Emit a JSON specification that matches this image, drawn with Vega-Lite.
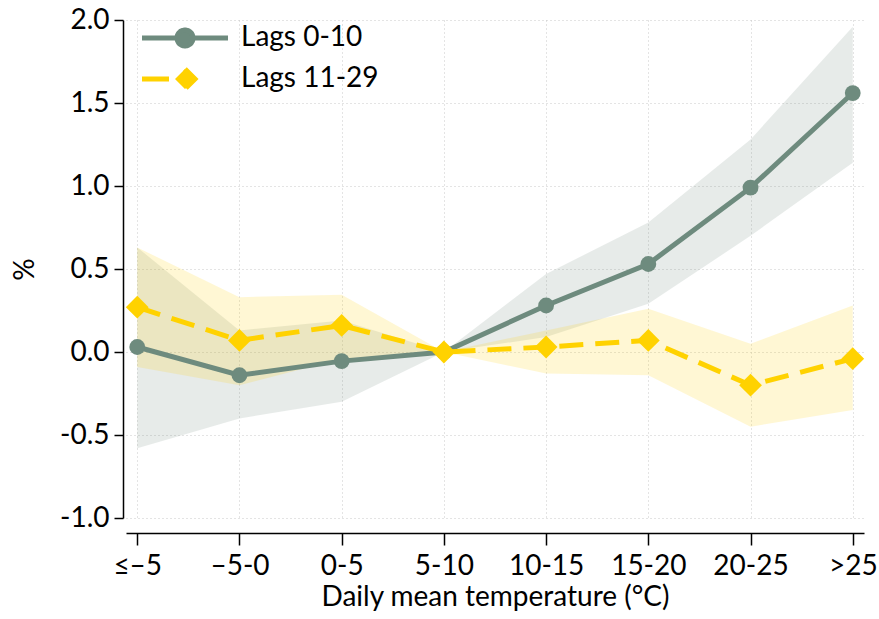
{
  "$schema": "https://vega.github.io/schema/vega-lite/v6.json",
  "width": 738,
  "height": 498,
  "padding": {"top": 6, "left": 11, "right": 17, "bottom": 8},
  "background": "white",
  "config": {
    "view": {"stroke": null},
    "font": "Lato",
    "axis": {
      "labelFont": "Lato", "titleFont": "Lato",
      "labelFontSize": 28, "titleFontSize": 28,
      "labelColor": "#000", "titleColor": "#000",
      "titleFontWeight": "normal",
      "domainColor": "#000", "domainWidth": 1.5,
      "tickColor": "#000", "tickWidth": 1.5,
      "gridColor": "#c8c8c8", "gridDash": [1, 3], "gridWidth": 1
    },
    "legend": {"labelFont": "Lato"}
  },
  "data": {
    "values": [
      {"cat": "≤–5", "series": "Lags 0-10", "est": 0.03, "lo": -0.58, "hi": 0.63},
      {"cat": "–5-0", "series": "Lags 0-10", "est": -0.14, "lo": -0.40, "hi": 0.13},
      {"cat": "0-5", "series": "Lags 0-10", "est": -0.055, "lo": -0.30, "hi": 0.19},
      {"cat": "5-10", "series": "Lags 0-10", "est": 0.0, "lo": 0.0, "hi": 0.0},
      {"cat": "10-15", "series": "Lags 0-10", "est": 0.28, "lo": 0.09, "hi": 0.47},
      {"cat": "15-20", "series": "Lags 0-10", "est": 0.53, "lo": 0.29, "hi": 0.78},
      {"cat": "20-25", "series": "Lags 0-10", "est": 0.99, "lo": 0.70, "hi": 1.28},
      {"cat": ">25", "series": "Lags 0-10", "est": 1.56, "lo": 1.14, "hi": 1.96},
      {"cat": "≤–5", "series": "Lags 11-29", "est": 0.27, "lo": -0.09, "hi": 0.63},
      {"cat": "–5-0", "series": "Lags 11-29", "est": 0.07, "lo": -0.20, "hi": 0.33},
      {"cat": "0-5", "series": "Lags 11-29", "est": 0.16, "lo": -0.04, "hi": 0.345},
      {"cat": "5-10", "series": "Lags 11-29", "est": 0.0, "lo": 0.0, "hi": 0.0},
      {"cat": "10-15", "series": "Lags 11-29", "est": 0.03, "lo": -0.13, "hi": 0.13},
      {"cat": "15-20", "series": "Lags 11-29", "est": 0.07, "lo": -0.14, "hi": 0.26},
      {"cat": "20-25", "series": "Lags 11-29", "est": -0.20, "lo": -0.45, "hi": 0.05},
      {"cat": ">25", "series": "Lags 11-29", "est": -0.04, "lo": -0.35, "hi": 0.28}
    ]
  },
  "encoding": {
    "x": {
      "field": "cat", "type": "ordinal",
      "sort": ["≤–5", "–5-0", "0-5", "5-10", "10-15", "15-20", "20-25", ">25"],
      "scale": {"type": "point", "padding": 0.11},
      "axis": {
        "title": "Daily mean temperature (°C)",
        "labelAngle": 0, "offset": 15, "tickSize": 12, "labelPadding": 7,
        "titlePadding": 3, "grid": true
      }
    },
    "color": {
      "field": "series", "type": "nominal",
      "scale": {"domain": ["Lags 0-10", "Lags 11-29"], "range": ["#6e8b7e", "#ffd200"]},
      "legend": {
        "orient": "none", "legendX": 45, "legendY": 4,
        "title": null, "padding": 0,
        "labelFontSize": 28, "labelColor": "#000", "labelOffset": 42,
        "symbolSize": 400, "rowPadding": 3,
        "encode": {
          "symbols": {
            "update": {
              "shape": {"signal": "datum.value === 'Lags 0-10' ? 'M-4.3,0L4.3,0M0.8,0A0.8,0.8 0 1,1 -0.8,0A0.8,0.8 0 1,1 0.8,0Z' : 'M-4.3,0L4.3,0M0,-1.0L1.0,0L0,1.0L-1.0,0Z'"},
              "size": {"value": 400},
              "fill": {"signal": "datum.value === 'Lags 0-10' ? '#6e8b7e' : '#ffd200'"},
              "stroke": {"signal": "datum.value === 'Lags 0-10' ? '#6e8b7e' : '#ffd200'"},
              "strokeWidth": {"value": 5},
              "strokeDash": {"signal": "datum.value === 'Lags 0-10' ? [1, 0] : [27, 59, 18, 200]"},
              "opacity": {"value": 1},
              "fillOpacity": {"value": 1},
              "strokeOpacity": {"value": 1}
            }
          }
        }
      }
    }
  },
  "layer": [
    {
      "mark": {"type": "area", "opacity": 0.17, "strokeWidth": 0},
      "encoding": {
        "y": {
          "field": "lo", "type": "quantitative",
          "scale": {"domain": [-1, 2], "nice": false, "zero": false},
          "axis": {
            "title": "%", "format": ".1f", "values": [-1, -0.5, 0, 0.5, 1, 1.5, 2],
            "labelExpr": "replace(datum.label, '−', '-')",
            "offset": 3, "tickSize": 9, "labelPadding": 5, "titlePadding": 20,
            "grid": true
          }
        },
        "y2": {"field": "hi"}
      }
    },
    {
      "mark": {"type": "rule", "color": "#555", "strokeWidth": 1},
      "encoding": {"y": {"datum": 0}, "color": {"value": "#555"}}
    },
    {
      "transform": [{"filter": "datum.series === 'Lags 0-10'"}],
      "mark": {"type": "line", "strokeWidth": 5},
      "encoding": {"y": {"field": "est", "type": "quantitative"}}
    },
    {
      "transform": [{"filter": "datum.series === 'Lags 11-29'"}],
      "mark": {"type": "line", "strokeWidth": 5, "strokeDash": [24, 12]},
      "encoding": {"y": {"field": "est", "type": "quantitative"}}
    },
    {
      "transform": [{"filter": "datum.series === 'Lags 0-10'"}],
      "mark": {"type": "point", "filled": true, "opacity": 1, "shape": "circle", "size": 250},
      "encoding": {"y": {"field": "est", "type": "quantitative"}}
    },
    {
      "transform": [{"filter": "datum.series === 'Lags 11-29'"}],
      "mark": {"type": "point", "filled": true, "opacity": 1, "shape": "diamond", "size": 520},
      "encoding": {"y": {"field": "est", "type": "quantitative"}}
    }
  ]
}
